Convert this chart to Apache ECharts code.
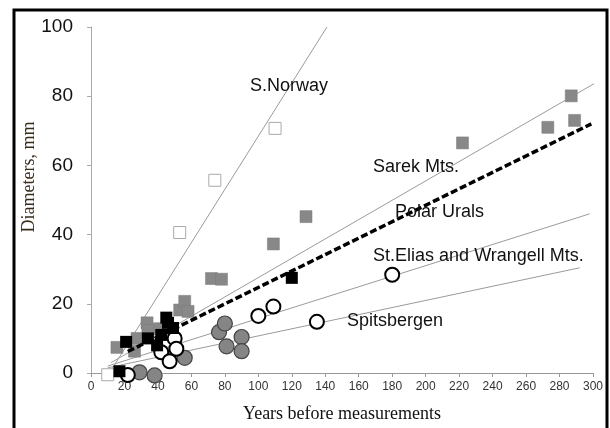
<!DOCTYPE html>
<html><head><meta charset="utf-8">
<script src="https://cdn.jsdelivr.net/npm/echarts@6/dist/echarts.min.js"></script>
<style>html,body{margin:0;padding:0;background:#fff}#c{width:610px;height:428px}</style>
</head><body><div id="c"></div>
<script>
// Axis ticks
var xTicks = [0,20,40,60,80,100,120,140,160,180,200,220,240,260,280,300];
var yTicks = [0,20,40,60,80,100];

// Point data [years, diameter mm]
var sNorwayPts = [[10,-0.5],[53,40.6],[74,55.7],[110,70.7]];
var sarekPts = [[15.5,7.4],[26,6.3],[27.5,10],[33.5,14.5],[34,12.3],[41,12.8],[53,18.2],[56,20.7],[58,17.8],[72,27.3],[78,27.1],[109,37.3],[128.5,45.2],[222,66.5],[273,71],[287,80.1],[289,73]];
var polarPts = [[17,0.5],[21,9],[34,10],[39.5,8],[42,11],[46,14.5],[45,16],[49,13],[120,27.5]];
var openCirclePts = [[22,-0.6],[42,6],[47,3.4],[50,10],[51,7],[100,16.5],[109,19.2],[135,14.8],[180,28.4]];
var greyCirclePts = [[29,0.2],[38,-0.7],[56,4.4],[76.5,11.8],[80,14.3],[81,7.7],[90,10.4],[90,6.3]];

// Regression lines (end points)
var sNorwayLine = [[11,0],[141,100]];
var sarekLine = [[12,3],[302,84]];
var polarLine = [[22,6.2],[299,72]];
var stEliasLine = [[10,2],[298,46]];
var spitsLine = [[10,1.5],[292,30.4]];

// Line annotations [x, y, text]
var annotations = [[95,83,'S.Norway'],[168.6,59.4,'Sarek Mts.'],[181.7,46.6,'Polar Urals'],[168.6,33.8,'St.Elias and Wrangell Mts.'],[153,15,'Spitsbergen']];

var chart = echarts.init(document.getElementById('c'));
function thinLine(d){
  return {type:'line',data:d,symbol:'none',silent:true,z:1,clip:false,
    lineStyle:{color:'#9a9a9a',width:1},animation:false};
}
function pts(d,sym,size,style,z){
  style.opacity = 1;
  return {type:'scatter',data:d,symbol:sym,symbolSize:size,z:z,clip:false,itemStyle:style};
}
chart.setOption({
  animation:false,
  grid:{left:91,right:17,top:27,bottom:49},
  xAxis:{type:'value',min:0,max:300,interval:20,
    axisLine:{show:true,lineStyle:{color:'#999',width:1}},
    axisTick:{show:true,length:4,lineStyle:{color:'#999'}},
    splitLine:{show:false},
    axisLabel:{color:'#333',fontSize:12,fontFamily:'Liberation Sans, Arial',margin:8,
      formatter:function(v){return xTicks.indexOf(v)>=0?String(v):'';}},
    name:'Years before measurements',nameLocation:'middle',nameGap:32,
    nameTextStyle:{fontFamily:'Liberation Serif, Times New Roman, serif',fontSize:18,color:'#111'}
  },
  yAxis:{type:'value',min:0,max:100,interval:20,
    axisLine:{show:true,lineStyle:{color:'#aaa',width:1}},
    axisTick:{show:true,length:4,lineStyle:{color:'#aaa'}},
    splitLine:{show:false},
    axisLabel:{color:'#111',fontSize:19,fontFamily:'Liberation Sans, Arial',margin:18,
      formatter:function(v){return yTicks.indexOf(v)>=0?String(v):'';}}
  },
  graphic:[
    {type:'rect',shape:{x:14,y:10,width:593,height:440},style:{fill:'none',stroke:'#000',lineWidth:3},z:100},
    {type:'text',x:29,y:177,rotation:Math.PI/2,
      style:{text:'Diameters, mm',font:'18px "Liberation Serif", "Times New Roman", serif',fill:'#3a2a1a',align:'center',verticalAlign:'middle'}}
  ],
  series:[
    thinLine(sNorwayLine),thinLine(sarekLine),thinLine(stEliasLine),thinLine(spitsLine),
    pts(sNorwayPts,'rect',12,{color:'#fff',borderColor:'#aaa',borderWidth:1},3),
    pts(sarekPts,'rect',12,{color:'#888',borderColor:'#7a7a7a',borderWidth:0.5},3),
    pts(greyCirclePts,'circle',15,{color:'#858585',borderColor:'#444',borderWidth:1.2},3),
    pts(openCirclePts,'circle',14,{color:'#fff',borderColor:'#000',borderWidth:2},4),
    pts(polarPts,'rect',12,{color:'#000',borderColor:'#000',borderWidth:0},5),
    {type:'line',data:polarLine,symbol:'none',z:6,silent:true,clip:false,
      lineStyle:{color:'#000',width:3.5,type:[7,3]}},
    {type:'scatter',symbolSize:0.1,z:7,silent:true,clip:false,itemStyle:{color:'rgba(0,0,0,0)',opacity:1},
      data:annotations.map(function(a){return {value:[a[0],a[1]],name:a[2]};}),
      label:{show:true,position:[0,0],align:'left',verticalAlign:'middle',
        formatter:function(p){return p.name;},
        fontSize:18,fontFamily:'Liberation Sans, Arial',color:'#111'}}
  ]
});
</script></body></html>
